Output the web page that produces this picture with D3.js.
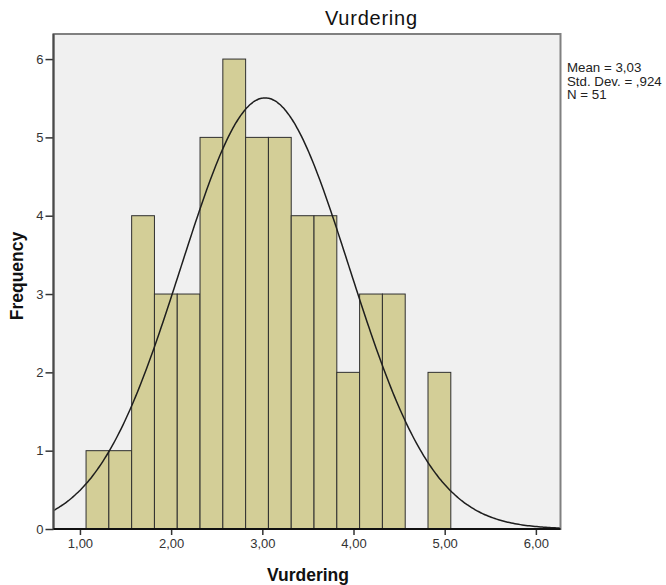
<!DOCTYPE html>
<html>
<head>
<meta charset="utf-8">
<script src="https://cdn.jsdelivr.net/npm/d3@7"></script>
<style>
    body { margin: 0; background: #fff; }
    text { font-family: "Liberation Sans", Arial, sans-serif; }
</style>
</head>
<body>
<svg id="hist" width="666" height="585"></svg>
<script>
"use strict";

// histogram data
const binStart = 1.067;
const binWidth = 0.25;
const counts = [1, 1, 4, 3, 3, 5, 6, 5, 5, 4, 4, 2, 3, 3, 0, 2];
const xTicks = [1, 2, 3, 4, 5, 6];
const yTicks = [0, 1, 2, 3, 4, 5, 6];
const statLabels = ["Mean = 3,03", "Std. Dev. = ,924", "N = 51"];
const mean = 3.03, stdDev = 0.924, nCases = 51;

const plotLeft = 53.5, plotRight = 560.5, plotTop = 34, plotBottom = 529;

const xScale = d3.scaleLinear().domain([0.71, 6.27]).range([plotLeft, plotRight]);
const yScale = d3.scaleLinear().domain([0, 6.32]).range([plotBottom, plotTop]);
const commaFmt = v => d3.format(".2f")(v).replace(".", ",");

const svg = d3.select("svg#hist");

// plot background
svg.append("rect")
    .attr("x", plotLeft).attr("y", plotTop)
    .attr("width", plotRight - plotLeft).attr("height", plotBottom - plotTop)
    .attr("fill", "#f0f0f0");

// bars
const bins = counts.map((c, i) => ({x0: binStart + i * binWidth, x1: binStart + (i + 1) * binWidth, count: c}));
svg.append("g").selectAll("rect")
    .data(bins.filter(b => b.count > 0))
    .join("rect")
        .attr("x", b => xScale(b.x0))
        .attr("y", b => yScale(b.count))
        .attr("width", b => xScale(b.x1) - xScale(b.x0))
        .attr("height", b => yScale(0) - yScale(b.count))
        .attr("fill", "#d3ce97")
        .attr("stroke", "#2f2f2f")
        .attr("stroke-width", 1);

// normal curve scaled to the histogram
svg.append("clipPath").attr("id", "plotClip")
    .append("rect")
    .attr("x", plotLeft).attr("y", plotTop)
    .attr("width", plotRight - plotLeft).attr("height", plotBottom - plotTop);

const curvePts = d3.range(0.71, 6.28, 0.02).map(x => {
    const z = (x - mean) / stdDev;
    return [x, nCases * binWidth * Math.exp(-0.5 * z * z) / (stdDev * Math.sqrt(2 * Math.PI))];
});
svg.append("path")
    .datum(curvePts)
    .attr("clip-path", "url(#plotClip)")
    .attr("fill", "none")
    .attr("stroke", "#1e1e1e")
    .attr("stroke-width", 1.5)
    .attr("d", d3.line().x(d => xScale(d[0])).y(d => yScale(d[1])).curve(d3.curveBasis));

// frame
svg.append("rect")
    .attr("x", plotLeft).attr("y", plotTop)
    .attr("width", plotRight - plotLeft).attr("height", plotBottom - plotTop)
    .attr("fill", "none")
    .attr("stroke", "#808080")
    .attr("stroke-width", 2);

// axes
const yAxis = svg.append("g")
    .attr("transform", `translate(${plotLeft},0)`)
    .call(d3.axisLeft(yScale).tickValues(yTicks).tickSize(8).tickPadding(2).tickFormat(d3.format("d")));
const xAxis = svg.append("g")
    .attr("transform", `translate(0,${plotBottom})`)
    .call(d3.axisBottom(xScale).tickValues(xTicks).tickSize(6).tickPadding(4).tickFormat(commaFmt));

[yAxis, xAxis].forEach(ax => {
    ax.select(".domain").remove();
    ax.selectAll("line").attr("stroke", "#333").attr("stroke-width", 1.5);
    ax.selectAll("text").attr("font-size", 13).attr("fill", "#333")
        .attr("font-family", "'Liberation Sans', Arial, sans-serif");
});

svg.append("line")
    .attr("x1", plotLeft).attr("x2", plotLeft).attr("y1", plotTop).attr("y2", plotBottom)
    .attr("stroke", "#4a4a4a").attr("stroke-width", 2);
svg.append("line")
    .attr("x1", plotLeft).attr("x2", plotRight).attr("y1", plotBottom).attr("y2", plotBottom)
    .attr("stroke", "#111").attr("stroke-width", 2);

// titles
svg.append("text")
    .attr("x", 371).attr("y", 25)
    .attr("text-anchor", "middle")
    .attr("font-size", 20)
    .attr("textLength", 92)
    .attr("fill", "#111")
    .text("Vurdering");

svg.append("text")
    .attr("x", 308).attr("y", 581)
    .attr("text-anchor", "middle")
    .attr("font-size", 17.5)
    .attr("font-weight", "bold")
    .attr("fill", "#111")
    .text("Vurdering");

svg.append("text")
    .attr("transform", "translate(23,276) rotate(-90)")
    .attr("text-anchor", "middle")
    .attr("font-size", 17.5)
    .attr("font-weight", "bold")
    .attr("fill", "#111")
    .text("Frequency");

// statistics
svg.append("g").selectAll("text")
    .data(statLabels)
    .join("text")
        .attr("x", 567)
        .attr("y", (d, i) => 72 + i * 13.5)
        .attr("font-size", 13.3)
        .attr("fill", "#222")
        .text(d => d);
</script>
</body>
</html>
